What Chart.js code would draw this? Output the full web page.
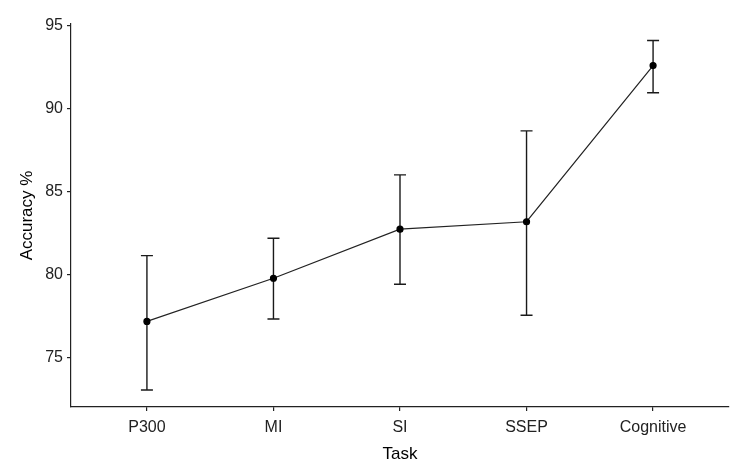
<!DOCTYPE html>
<html>
<head>
<meta charset="utf-8">
<script src="https://cdn.jsdelivr.net/npm/chart.js@4/dist/chart.umd.min.js"></script>
<style>
  html, body { margin: 0; padding: 0; background: #fff; }
  #wrap { width: 745px; height: 470px; }
</style>
</head>
<body>
<div id="wrap"><canvas id="myChart"></canvas></div>
<script>
const tasks = ['P300', 'MI', 'SI', 'SSEP', 'Cognitive'];
const accuracy = [77.2, 79.8, 82.75, 83.2, 92.6];
const errLow = [73.07, 77.35, 79.44, 77.57, 90.96];
const errHigh = [81.16, 82.21, 86.02, 88.67, 94.11];
const yTicks = [75, 80, 85, 90, 95];

// vertical error bars with caps, drawn through the chart scales
const errorBars = {
    id: 'errorBars',
    beforeDatasetsDraw(chart) {
        const c = chart.ctx;
        const xs = chart.scales.x;
        const ys = chart.scales.y;
        c.save();
        c.strokeStyle = '#1a1a1a';
        c.lineWidth = 1.4;
        tasks.forEach((t, i) => {
            const x = xs.getPixelForValue(i);
            const top = ys.getPixelForValue(errHigh[i]);
            const bot = ys.getPixelForValue(errLow[i]);
            c.beginPath();
            c.moveTo(x, top); c.lineTo(x, bot);
            c.moveTo(x - 6, top); c.lineTo(x + 6, top);
            c.moveTo(x - 6, bot); c.lineTo(x + 6, bot);
            c.stroke();
        });
        c.restore();
    }
};

const ctx = document.getElementById('myChart').getContext('2d');

new Chart(ctx, {
    type: 'line',
    data: {
        datasets: [{
            data: accuracy.map((v, i) => ({ x: i, y: v })),
            borderColor: '#222',
            borderWidth: 1.2,
            pointRadius: 3,
            pointBackgroundColor: '#000',
            pointBorderColor: '#000',
            tension: 0
        }]
    },
    plugins: [errorBars],
    options: {
        responsive: true,
        maintainAspectRatio: false,
        animation: false,
        layout: { padding: { left: 17, top: 24, right: 16, bottom: 0 } },
        plugins: { legend: { display: false }, tooltip: { enabled: false } },
        scales: {
            x: {
                type: 'linear',
                min: -0.6,
                max: 4.6,
                afterBuildTicks: axis => { axis.ticks = tasks.map((t, i) => ({ value: i })); },
                afterFit: scale => { scale.height = 63; },
                ticks: {
                    color: '#222',
                    font: { family: 'Liberation Sans', size: 16 },
                    padding: 7,
                    maxRotation: 0,
                    callback: v => tasks[v]
                },
                grid: { drawOnChartArea: false, drawTicks: true, tickLength: 4, color: '#222', lineWidth: 1.2 },
                border: { display: true, color: '#222', width: 1.2 },
                title: {
                    display: true,
                    text: 'Task',
                    color: '#000',
                    font: { family: 'Liberation Sans', size: 17 },
                    padding: { top: 0, bottom: 5 }
                }
            },
            y: {
                min: 72.05,
                max: 95.1,
                afterBuildTicks: axis => { axis.ticks = yTicks.map(v => ({ value: v })); },
                afterFit: scale => { scale.width = 54; },
                ticks: {
                    color: '#222',
                    font: { family: 'Liberation Sans', size: 16 },
                    padding: 4
                },
                grid: { drawOnChartArea: false, drawTicks: true, tickLength: 4, color: '#222', lineWidth: 1.2 },
                border: { display: true, color: '#222', width: 1.2 },
                title: {
                    display: true,
                    text: 'Accuracy %',
                    color: '#000',
                    font: { family: 'Liberation Sans', size: 17 },
                    padding: 0
                }
            }
        }
    }
});
</script>
</body>
</html>
